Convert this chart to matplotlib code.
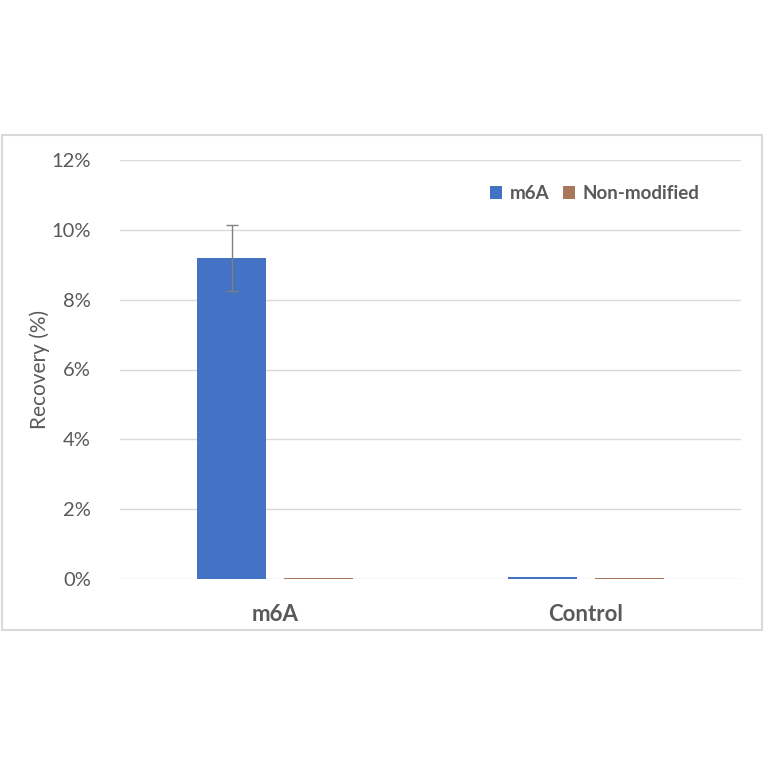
import numpy as np
import matplotlib.pyplot as plt
from matplotlib.patches import Rectangle

plt.rcParams['font.family'] = ['Lato', 'DejaVu Sans']

categories = ["m6A", "Control"]
series_names = ["m6A", "Non-modified"]
m6a_vals = [9.2, 0.05]
nonmod_vals = [0.03, 0.03]
m6a_err = [0.95, 0.0]
yticks = [0, 2, 4, 6, 8, 10, 12]

text_col = "#595959"
grid_col = "#D9D9D9"
colors = ["#4472C4", "#A9785C"]

fig = plt.figure(figsize=(7.64, 7.64), dpi=100)
ax = fig.add_axes([120/764, 1 - 579/764, 621/764, 419/764])

# outer chart border
fig.patches.append(Rectangle((2/764, 1 - 630/764), 760/764, 495/764,
                             transform=fig.transFigure, fill=False,
                             edgecolor=grid_col, linewidth=1.5))

x = np.arange(len(categories))
w = 0.222
off = 0.14
ax.bar(x - off, m6a_vals, w, color=colors[0], label=series_names[0], zorder=3)
ax.bar(x + off, nonmod_vals, w, color=colors[1], label=series_names[1], zorder=3)
ax.errorbar(x[:1] - off, m6a_vals[:1], yerr=m6a_err[:1], fmt="none",
            ecolor="#808080", elinewidth=1, capsize=4, capthick=1, zorder=4)

ax.set_xlim(-0.5, 1.5)
ax.set_ylim(0, 12)
ax.set_yticks(yticks, labels=[f"{t}%" for t in yticks])
ax.set_xticks(x, labels=categories)
for s in ax.spines.values():
    s.set_visible(False)
ax.grid(axis="y", color=grid_col, linewidth=1, zorder=0)
ax.tick_params(axis="both", length=0, colors=text_col)
ax.tick_params(axis="y", labelsize=14.5, pad=21)
ax.tick_params(axis="x", labelsize=16, pad=18)
for lbl in ax.get_xticklabels():
    lbl.set_fontweight("bold")
ax.set_ylabel("Recovery (%)", fontsize=15, color=text_col, labelpad=1)

leg = ax.legend(loc="upper right", bbox_to_anchor=(0.96, 0.98), ncol=2,
                frameon=False, handlelength=0.65, handleheight=0.65,
                handletextpad=0.4, columnspacing=0.7,
                prop={"weight": "bold", "size": 13.5})
for t in leg.get_texts():
    t.set_color(text_col)

fig.savefig("out.png", dpi=100, facecolor="white")
